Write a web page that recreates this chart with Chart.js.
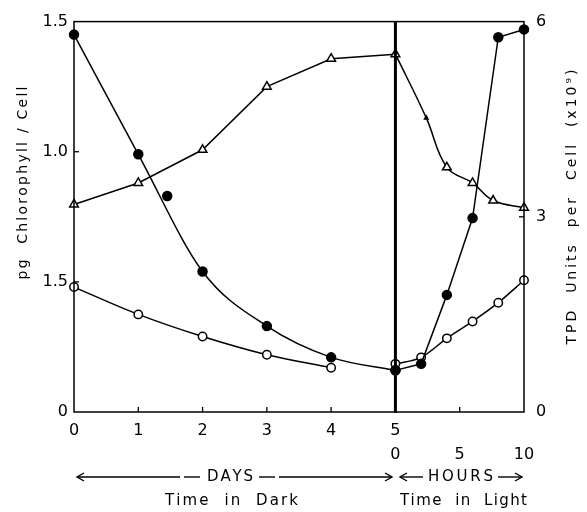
<!DOCTYPE html>
<html><head><meta charset="utf-8">
<script src="https://cdn.jsdelivr.net/npm/chart.js@4"></script>
<style>html,body{margin:0;padding:0;background:#fff}</style>
</head><body>
<canvas id="c" width="587" height="512" style="width:587px;height:512px;display:block"></canvas>
<script>
// ---- data ----
// filled circles (left axis, pg chlorophyll / cell)
const filledDarkDays   = [0, 1, 2, 3, 4, 5];
const filledDarkVals   = [1.45, 0.99, 0.54, 0.33, 0.21, 0.16];
const filledExtraDays  = [1.45];          // marker lying just off the drawn line
const filledExtraVals  = [0.83];
const filledLightHours = [0, 2, 4, 6, 8, 10];
const filledLightVals  = [0.16, 0.185, 0.45, 0.745, 1.44, 1.47];
// open circles (left axis)
const openDarkDays   = [0, 1, 2, 3, 4];
const openDarkVals   = [0.48, 0.375, 0.29, 0.22, 0.17];
const openLightHours = [0, 2, 4, 6, 8, 10];
const openLightVals  = [0.185, 0.21, 0.283, 0.348, 0.42, 0.506];
// open triangles (right axis, TPD units per cell x10^9)
const triDarkDays   = [0, 1, 2, 3, 4, 5];
const triDarkVals   = [3.19, 3.52, 4.03, 5.0, 5.43, 5.5];
const triLightHours = [0, 2.4, 4, 6, 7.6, 10];
const triLightVals  = [5.5, 4.52, 3.76, 3.52, 3.25, 3.14];
// tick labels
const dayTickLabels  = ['0', '1', '2', '3', '4', '5'];
const hourTicks      = [0, 5, 10];
const hourTickLabels = ['0', '5', '10'];
const leftTicks      = [0, 0.5, 1.0, 1.5];
const leftTickLabels = ['0', '1.5', '1.0', '1.5'];
const rightTicks      = [0, 3, 6];
const rightTickLabels = ['0', '3', '6'];

// hours are placed after day 5: 10 hours span 2 day-units
const hourToX = h => 5 + h / 5;
const dark  = (xs, ys) => xs.map((d, i) => ({x: d, y: ys[i]}));
const light = (hs, ys) => hs.map((h, i) => ({x: hourToX(h), y: ys[i]}));

function spaced(ctx, text, cx, cy, width, font, rot) {
  ctx.save();
  ctx.translate(cx, cy);
  if (rot) ctx.rotate(rot);
  ctx.font = font;
  ctx.textAlign = 'left';
  ctx.textBaseline = 'middle';
  const chars = [...text];
  const ws = chars.map(ch => ctx.measureText(ch).width);
  const sum = ws.reduce((a, b) => a + b, 0);
  const gap = chars.length > 1 ? (width - sum) / (chars.length - 1) : 0;
  let px = -width / 2;
  chars.forEach((ch, i) => { ctx.fillText(ch, px, 0); px += ws[i] + gap; });
  ctx.restore();
}
function seg(ctx, x1, y1, x2, y2) { ctx.beginPath(); ctx.moveTo(x1, y1); ctx.lineTo(x2, y2); ctx.stroke(); }
function head(ctx, x, y, dir) {
  ctx.beginPath(); ctx.moveTo(x + dir * 7, y - 4); ctx.lineTo(x, y); ctx.lineTo(x + dir * 7, y + 4); ctx.stroke();
}

const deco = {
  id: 'deco',
  afterDatasetsDraw(chart) {
    const {ctx, chartArea: a, scales} = chart;
    const x = scales.x, y = scales.y, y2 = scales.y2;
    ctx.save();
    ctx.strokeStyle = '#000'; ctx.fillStyle = '#000';
    ctx.lineWidth = 1.5;
    ctx.strokeRect(a.left, a.top, a.right - a.left, a.bottom - a.top);
    const xd = x.getPixelForValue(5);
    ctx.lineWidth = 3;
    seg(ctx, xd, a.top, xd, a.bottom + 1);
    ctx.lineWidth = 1.3;
    [1, 2, 3, 4, hourToX(5)].forEach(v => { const p = x.getPixelForValue(v); seg(ctx, p, a.bottom, p, a.bottom - 5); });
    [0.5, 1.0].forEach(v => { const p = y.getPixelForValue(v); seg(ctx, a.left, p, a.left + 5, p); });
    [3].forEach(v => { const p = y2.getPixelForValue(v); seg(ctx, a.right, p, a.right - 5, p); });

    // axis titles
    spaced(ctx, 'pg  Chlorophyll / Cell', 23, 183, 193, '14px "DejaVu Sans"', -Math.PI / 2);
    spaced(ctx, 'TPD  Units  per  Cell  (x10\u2079)', 572, 207, 275, '14px "DejaVu Sans"', -Math.PI / 2);

    // bottom arrows row
    const ay = 477;
    ctx.lineWidth = 1.4;
    seg(ctx, 77, ay, 180, ay); head(ctx, 77, ay, 1);
    seg(ctx, 184, ay, 200, ay);
    seg(ctx, 259, ay, 275, ay);
    seg(ctx, 279, ay, 392, ay); head(ctx, 392, ay, -1);
    seg(ctx, 400, ay, 423, ay); head(ctx, 400, ay, 1);
    seg(ctx, 498, ay, 522, ay); head(ctx, 522, ay, -1);
    spaced(ctx, 'DAYS', 230, ay, 46, '15px "DejaVu Sans"', 0);
    spaced(ctx, 'HOURS', 460.5, ay, 65, '15px "DejaVu Sans"', 0);
    spaced(ctx, 'Time  in  Dark', 231.5, 501, 133, '15px "DejaVu Sans"', 0);
    spaced(ctx, 'Time  in  Light', 463.5, 501, 127, '15px "DejaVu Sans"', 0);
    ctx.restore();
  }
};

const tickFont = {family: '"DejaVu Sans"', size: 16, lineHeight: 1.55};
const base = {borderColor: '#000', borderWidth: 1.5, pointBorderColor: '#000', pointBorderWidth: 1.5, clip: false, fill: false};

new Chart(document.getElementById('c'), {
  type: 'line',
  data: {
    datasets: [
      Object.assign({}, base, {label: 'filled dark', data: dark(filledDarkDays, filledDarkVals), yAxisID: 'y',
        cubicInterpolationMode: 'monotone', pointStyle: 'circle', pointRadius: 4.5, pointBackgroundColor: '#000'}),
      Object.assign({}, base, {label: 'filled dark extra', data: dark(filledExtraDays, filledExtraVals), yAxisID: 'y',
        showLine: false, pointStyle: 'circle', pointRadius: 4.5, pointBackgroundColor: '#000'}),
      Object.assign({}, base, {label: 'filled light', data: light(filledLightHours, filledLightVals), yAxisID: 'y',
        tension: 0, pointStyle: 'circle', pointRadius: 4.5, pointBackgroundColor: '#000'}),
      Object.assign({}, base, {label: 'open dark', data: dark(openDarkDays, openDarkVals), yAxisID: 'y',
        cubicInterpolationMode: 'monotone', pointStyle: 'circle', pointRadius: 4.2, pointBackgroundColor: '#fff'}),
      Object.assign({}, base, {label: 'open light', data: light(openLightHours, openLightVals), yAxisID: 'y',
        cubicInterpolationMode: 'monotone', pointStyle: 'circle', pointRadius: 4.2, pointBackgroundColor: '#fff'}),
      Object.assign({}, base, {label: 'triangles dark', data: dark(triDarkDays, triDarkVals), yAxisID: 'y2',
        tension: 0, pointStyle: 'triangle', pointRadius: 5, pointBackgroundColor: '#fff'}),
      Object.assign({}, base, {label: 'triangles light', data: light(triLightHours, triLightVals), yAxisID: 'y2',
        tension: 0.4, pointStyle: 'triangle', pointRadius: [0, 2, 5, 5, 5, 5], pointBackgroundColor: '#fff'})
    ]
  },
  options: {
    responsive: false,
    animation: false,
    devicePixelRatio: 1,
    layout: {padding: {top: 15, left: 0, right: 0, bottom: 0}},
    plugins: {legend: {display: false}, tooltip: {enabled: false}},
    scales: {
      x: {
        type: 'linear', min: 0, max: 7, position: 'bottom',
        grid: {display: false, drawTicks: false}, border: {display: false},
        afterBuildTicks: s => { s.ticks = [0, 1, 2, 3, 4, 5, 6, 7].map(v => ({value: v})); },
        afterFit: s => { s.height = 100; },
        ticks: {
          color: '#000', font: tickFont, padding: 6, maxRotation: 0, autoSkip: false,
          callback: v => {
            const top = v <= 5 ? dayTickLabels[v] : '';
            const hi = hourTicks.findIndex(h => hourToX(h) === v);
            return [top, hi >= 0 ? hourTickLabels[hi] : ''];
          }
        }
      },
      y: {
        type: 'linear', min: 0, max: 1.5, position: 'left',
        grid: {display: false, drawTicks: false}, border: {display: false},
        afterBuildTicks: s => { s.ticks = leftTicks.map(v => ({value: v})); },
        afterFit: s => { s.width = 74; },
        ticks: {color: '#000', font: {family: '"DejaVu Sans"', size: 16}, padding: 6,
          callback: (v) => leftTickLabels[leftTicks.indexOf(v)]}
      },
      y2: {
        type: 'linear', min: 0, max: 6, position: 'right',
        grid: {display: false, drawTicks: false}, border: {display: false},
        afterBuildTicks: s => { s.ticks = rightTicks.map(v => ({value: v})); },
        afterFit: s => { s.width = 63; },
        ticks: {color: '#000', font: {family: '"DejaVu Sans"', size: 16}, padding: 12,
          callback: (v) => rightTickLabels[rightTicks.indexOf(v)]}
      }
    }
  },
  plugins: [deco]
});
</script>
</body></html>
